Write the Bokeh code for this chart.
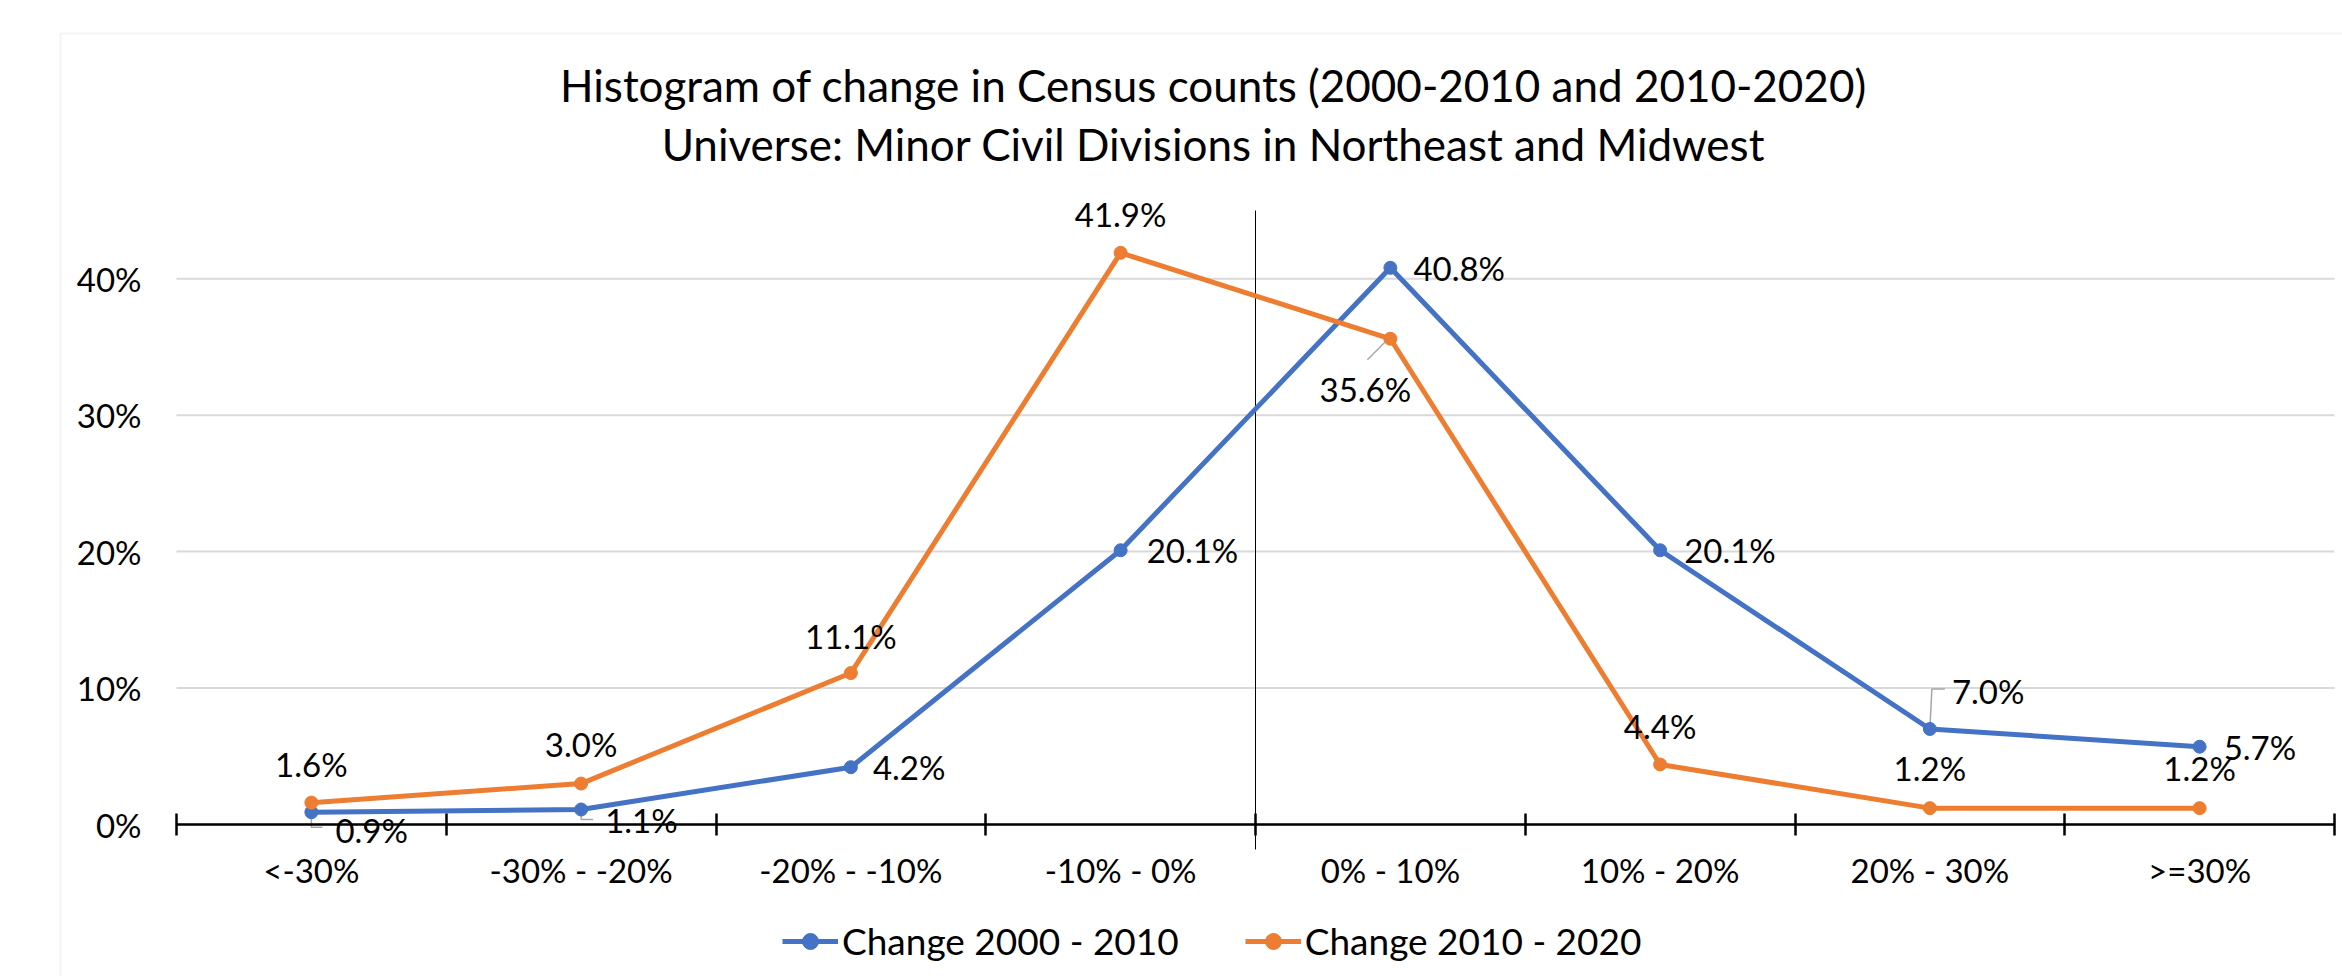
from bokeh.plotting import figure
from bokeh.models import (ColumnDataSource, LabelSet, Label, Legend, LegendItem,
                          FixedTicker, BoxAnnotation, Range1d)
from bokeh.core.properties import value
from bokeh.embed import file_html
from bokeh.resources import INLINE

# ---------------- data ----------------
categories = ["<-30%", "-30% - -20%", "-20% - -10%", "-10% - 0%",
              "0% - 10%", "10% - 20%", "20% - 30%", ">=30%"]
change_2000_2010 = [0.9, 1.1, 4.2, 20.1, 40.8, 20.1, 7.0, 5.7]
change_2010_2020 = [1.6, 3.0, 11.1, 41.9, 35.6, 4.4, 1.2, 1.2]
y_ticks = [0, 10, 20, 30, 40]
y_tick_labels = ["0%", "10%", "20%", "30%", "40%"]
series_names = ["Change 2000 - 2010", "Change 2010 - 2020"]
title_lines = ["Histogram of change in Census counts (2000-2010 and 2010-2020)",
               "Universe: Minor Civil Divisions in Northeast and Midwest"]

# ---------------- styling / placement ----------------
FONT = "Lato"
BLUE = "#4472C4"
ORANGE = "#ED7D31"
GRID = "#d9d9d9"
W, H = 2342, 976
# plot-area edges in canvas pixels
PL, PR, PT, PB = 176, 2334, 210, 824
Y_MAX = 45
N = len(categories)
UX = (PR - PL) / N        # px per category
UY = (PB - PT) / Y_MAX    # px per percentage point

# data-label pixel offsets (positive dy = up)
blue_dx = [24, 24, 22, 26, 23, 24, 22, 24]
blue_dy = [-18, -11, 0, 0, 0, 0, 38, 0]
orange_dx = [0, 0, 0, 0, -25, 0, 0, 0]
orange_dy = [39, 40, 37, 39, -50, 38, 40, 40]


def cx(px):  # canvas px -> data x
    return (px - PL) / UX


def cy(py):  # canvas px -> data y
    return (PB - py) / UY


xs = [i + 0.5 for i in range(N)]

p = figure(width=W, height=H,
           x_range=Range1d(cx(0), cx(W)), y_range=Range1d(cy(H), cy(0)),
           output_backend="svg", toolbar_location=None,
           min_border_left=0, min_border_right=0, min_border_top=0, min_border_bottom=0)
p.outline_line_color = None
p.background_fill_color = "white"
p.border_fill_color = "white"
p.xgrid.visible = False
p.ygrid.visible = False

# horizontal gridlines (plot area only)
p.segment(x0=[0] * len(y_ticks), x1=[N] * len(y_ticks), y0=y_ticks, y1=y_ticks,
          line_color=GRID, line_width=2)

# vertical axis line crossing between 4th and 5th category
p.segment(x0=[N / 2], x1=[N / 2], y0=[-25 / UY], y1=[Y_MAX], line_color="black", line_width=1)

# x axis
p.xaxis.fixed_location = 0
p.xaxis.bounds = (0, N)
p.xaxis.ticker = FixedTicker(ticks=xs, minor_ticks=list(range(N + 1)))
p.xaxis.major_label_overrides = {x: c for x, c in zip(xs, categories)}
p.xaxis.major_tick_in = 0
p.xaxis.major_tick_out = 0
p.xaxis.minor_tick_in = 11
p.xaxis.minor_tick_out = 11
p.xaxis.minor_tick_line_width = 2.5
p.xaxis.minor_tick_line_color = "black"
p.xaxis.axis_line_width = 2.5
p.xaxis.axis_line_color = "black"
p.xaxis.major_label_standoff = 14
p.xaxis.major_label_text_font = FONT
p.xaxis.major_label_text_font_size = "33px"
p.xaxis.major_label_text_color = "black"

# y axis
p.yaxis.fixed_location = 0
p.yaxis.ticker = FixedTicker(ticks=y_ticks)
p.yaxis.major_label_overrides = {t: l for t, l in zip(y_ticks, y_tick_labels)}
p.yaxis.axis_line_color = None
p.yaxis.major_tick_line_color = None
p.yaxis.minor_tick_line_color = None
p.yaxis.major_tick_out = 0
p.yaxis.major_label_standoff = 35
p.yaxis.major_label_text_font = FONT
p.yaxis.major_label_text_font_size = "33px"
p.yaxis.major_label_text_color = "black"

# leader lines (gray) from data points toward displaced labels
LEAD = "#a6a6a6"
p.line([xs[0], xs[0], xs[0] + 11 / UX],
       [change_2000_2010[0], change_2000_2010[0] - 15 / UY, change_2000_2010[0] - 15 / UY],
       line_color=LEAD, line_width=1.5)
p.line([xs[1], xs[1], xs[1] + 12 / UX],
       [change_2000_2010[1], change_2000_2010[1] - 10 / UY, change_2000_2010[1] - 10 / UY],
       line_color=LEAD, line_width=1.5)
p.line([xs[6], xs[6] + 2 / UX, xs[6] + 15 / UX],
       [change_2000_2010[6], change_2000_2010[6] + 40 / UY, change_2000_2010[6] + 40 / UY],
       line_color=LEAD, line_width=1.5)
p.line([xs[4] - 5 / UX, xs[4] - 23 / UX],
       [change_2010_2020[4] - 3 / UY, change_2010_2020[4] - 21 / UY],
       line_color=LEAD, line_width=1.5)

# series
l1 = p.line(xs, change_2000_2010, line_color=BLUE, line_width=5)
s1 = p.scatter(xs, change_2000_2010, size=13, fill_color=BLUE, line_color=BLUE)
l2 = p.line(xs, change_2010_2020, line_color=ORANGE, line_width=5)
s2 = p.scatter(xs, change_2010_2020, size=13, fill_color=ORANGE, line_color=ORANGE)

# data labels
src_b = ColumnDataSource(dict(x=xs, y=change_2000_2010,
                              t=[f"{v:.1f}%" for v in change_2000_2010],
                              dx=blue_dx, dy=blue_dy))
src_o = ColumnDataSource(dict(x=xs, y=change_2010_2020,
                              t=[f"{v:.1f}%" for v in change_2010_2020],
                              dx=orange_dx, dy=orange_dy))
p.add_layout(LabelSet(x="x", y="y", text="t", source=src_b, x_offset="dx", y_offset="dy",
                      text_align="left", text_baseline="middle", text_font=value(FONT),
                      text_font_size="33px", text_color="black"))
p.add_layout(LabelSet(x="x", y="y", text="t", source=src_o, x_offset="dx", y_offset="dy",
                      text_align="center", text_baseline="middle", text_font=value(FONT),
                      text_font_size="33px", text_color="black"))

# title (two lines)
for line_text, mid_py in zip(title_lines, [84, 143]):
    p.add_layout(Label(x=cx(1213), y=cy(mid_py), text=line_text,
                       text_align="center", text_baseline="middle",
                       text_font=FONT, text_font_size="44px", text_color="black"))

# legend
legend = Legend(items=[LegendItem(label=series_names[0], renderers=[l1, s1]),
                       LegendItem(label=series_names[1], renderers=[l2, s2])],
                orientation="horizontal", location=(782, H - 963),
                glyph_width=56, glyph_height=40, label_height=40,
                label_standoff=4, spacing=66, padding=0, margin=0,
                border_line_color=None, background_fill_alpha=0,
                label_text_font=FONT, label_text_font_size="37px",
                label_text_color="black", label_text_baseline="middle")
p.add_layout(legend)

# outer chart border (right/bottom sides lie beyond the picture)
p.add_layout(BoxAnnotation(left=cx(60), right=cx(W + 100), top=cy(33), bottom=cy(H + 100),
                           fill_alpha=0, line_color=GRID, line_width=2))

open("out.html", "w").write(file_html(p, INLINE))
